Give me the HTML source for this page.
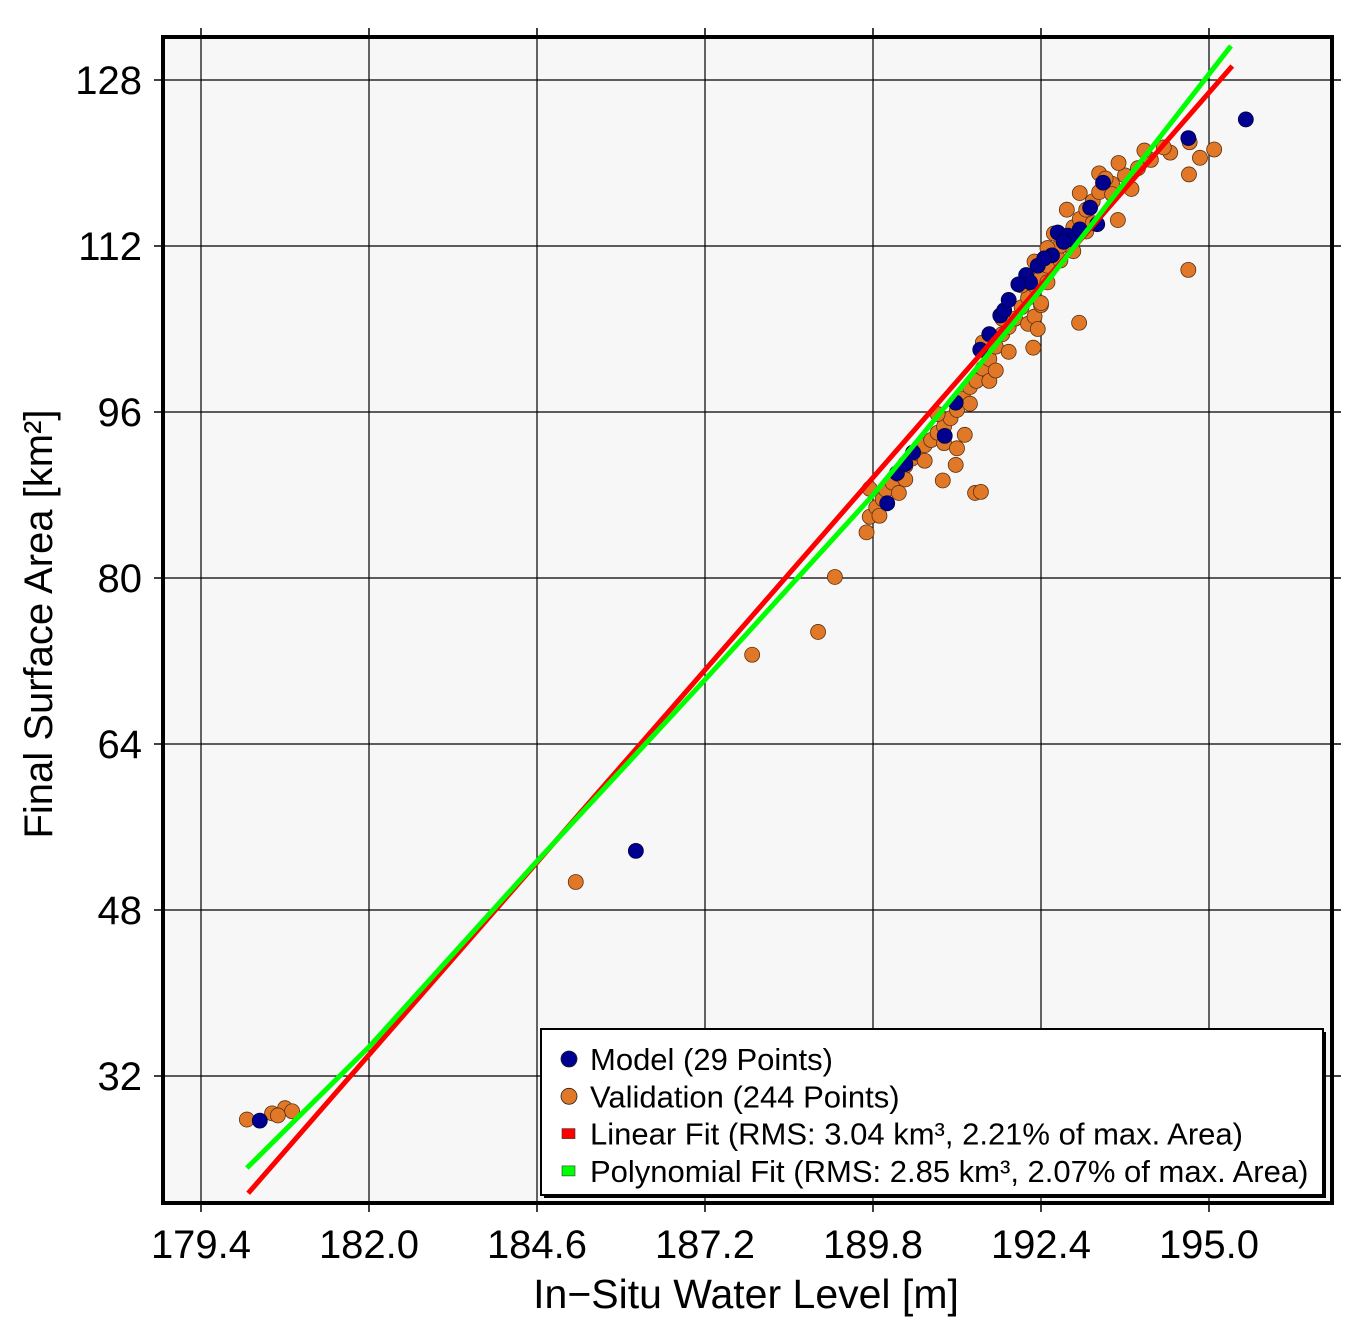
<!DOCTYPE html>
<html><head><meta charset="utf-8"><style>
html,body{margin:0;padding:0;background:#fff;}
svg{display:block;font-family:"Liberation Sans",sans-serif;}
</style></head><body>
<svg id="chart" width="1364" height="1342" viewBox="0 0 1364 1342"></svg>
<script>
const xTicks=[179.4,182.0,184.6,187.2,189.8,192.4,195.0];
const yTicks=[32,48,64,80,96,112,128];
const modelX=[180.31,186.13,190.02,190.17,190.42,190.91,191.08,191.46,191.77,191.83,192.17,192.23,192.35,192.57,192.66,192.82,193.16,193.27,193.36,194.68,195.57,192.45,192.05,191.6,190.3,192.9,193.0,192.75,191.9];
const modelY=[27.7,53.7,87.2,90.1,92.1,93.7,96.9,102.0,105.3,105.8,109.2,108.5,110.1,111.1,113.3,113.0,115.7,114.1,118.1,122.4,124.2,110.8,108.3,103.5,91.0,112.6,113.6,112.4,106.8];
const valX=[189.7,189.75,189.85,189.95,190.0,190.1,190.2,190.3,190.4,190.5,190.6,190.7,190.8,190.9,191.0,191.1,191.2,191.3,191.4,191.5,191.6,191.7,191.8,191.9,192.0,192.1,192.2,192.3,192.4,192.5,192.6,192.7,192.8,192.9,193.0,193.1,193.2,193.3,193.5,193.7,193.9,194.1,194.4,194.7,
190.3,190.6,190.9,191.1,191.3,191.6,191.9,192.2,192.3,192.4,192.5,192.7,192.9,193.1,193.2,193.5,192.6,192.8,193.0,193.3,192.1,191.8,191.5,190.2,189.9,189.75,190.8,191.7,192.3,192.5,193.4,193.6,194.0,194.3,193.8,
180.11,180.50,180.70,180.81,180.59,185.20,187.93,188.95,189.21,190.88,191.08,191.22,191.38,191.47,192.28,192.99,194.68,194.69,194.86,195.08,193.59,192.35,192.4];
const valY=[84.4,85.9,86.8,87.6,88.5,89.2,90.0,90.8,91.5,92.0,92.8,93.3,94.0,94.6,95.4,96.2,97.3,98.4,99.0,100.2,101.1,102.3,103.5,104.2,105.0,106.1,107.0,108.2,109.0,110.1,111.2,112.0,113.0,113.8,114.6,115.5,116.3,117.2,118.0,118.8,119.5,120.3,121.0,122.0,
89.5,91.3,93.0,92.5,96.8,99.0,101.8,104.5,105.2,106.3,108.5,110.6,111.5,113.4,114.2,117.0,113.2,115.5,117.1,119.0,108.2,105.0,102.7,88.2,86.0,88.6,95.8,100.0,110.5,111.8,118.5,120.0,121.2,121.5,117.5,
27.8,28.4,28.9,28.6,28.2,50.7,72.6,74.8,80.1,89.4,90.9,93.8,88.2,88.3,102.2,104.6,109.7,118.9,120.5,121.3,114.5,104.0,106.5];
const linX=[180.13,195.36];
const linY=[20.7,129.35];
const polyX=[180.11,182.0,184.6,187.2,189.8,192.4,195.34];
const polyY=[23.13,34.8,52.7,70.2,88.0,107.8,131.28];

const L=163,R=1332,T=37,B=1203;
const X=v=>201+(v-179.4)*(168/2.6);
const Y=v=>80+(128-v)*(166/16);
const NS='http://www.w3.org/2000/svg';
const svg=document.getElementById('chart');
function mk(t,a,p){const e=document.createElementNS(NS,t);for(const k in a)e.setAttribute(k,a[k]);(p||svg).appendChild(e);return e;}

let e=mk('rect',{x:L,y:T,width:R-L,height:B-T,fill:'#f7f7f7'});


xTicks.forEach(v=>{
  let g=mk('line',{x1:X(v),x2:X(v),y1:T,y2:B,stroke:'#000','stroke-width':1.2});
  
  
  mk('line',{x1:X(v),x2:X(v),y1:B,y2:B+9,stroke:'#000','stroke-width':1.5});
  mk('line',{x1:X(v),x2:X(v),y1:T-9,y2:T,stroke:'#000','stroke-width':1.5});
  let t=mk('text',{x:X(v),y:1258,'font-size':40,'text-anchor':'middle'});t.textContent=v.toFixed(1);
  
  
});
yTicks.forEach(v=>{
  let g=mk('line',{x1:L,x2:R,y1:Y(v),y2:Y(v),stroke:'#000','stroke-width':1.2});
  
  
  mk('line',{x1:L-9,x2:L,y1:Y(v),y2:Y(v),stroke:'#000','stroke-width':1.5});
  mk('line',{x1:R,x2:R+9,y1:Y(v),y2:Y(v),stroke:'#000','stroke-width':1.5});
  let t=mk('text',{x:142,y:Y(v)+14,'font-size':40,'text-anchor':'end'});t.textContent=v;
  
  
});
valX.forEach((v,i)=>{
  let c=mk('circle',{cx:X(v),cy:Y(valY[i]),r:7.5,fill:'#e07828',stroke:'#5a3010','stroke-width':0.8});
  
  
});
modelX.forEach((v,i)=>{
  let c=mk('circle',{cx:X(v),cy:Y(modelY[i]),r:7.5,fill:'#000090',stroke:'#000040','stroke-width':0.8});
  
  
});
let lp=mk('polyline',{points:linX.map((v,i)=>X(v)+','+Y(linY[i])).join(' '),fill:'none',stroke:'#ff0000','stroke-width':5});


let pp=mk('polyline',{points:polyX.map((v,i)=>X(v)+','+Y(polyY[i])).join(' '),fill:'none',stroke:'#00ff00','stroke-width':5,'stroke-linejoin':'round'});



let fr=mk('rect',{x:L,y:T,width:R-L,height:B-T,fill:'none',stroke:'#000','stroke-width':4});



let lg=mk('g',{});


mk('rect',{x:544,y:1032,width:782,height:166,fill:'#000'},lg);
mk('rect',{x:541,y:1029,width:782,height:166,fill:'#fff',stroke:'#000','stroke-width':2},lg);
const items=[['circle','#000090','Model (29 Points)'],['circle','#e07828','Validation (244 Points)'],['sq','#ff0000','Linear Fit (RMS: 3.04 km³, 2.21% of max. Area)'],['sq','#00ff00','Polynomial Fit (RMS: 2.85 km³, 2.07% of max. Area)']];
items.forEach((it,i)=>{
  const y=1059+i*37.3;
  if(it[0]=='circle') mk('circle',{cx:569,cy:y,r:8,fill:it[1],stroke:'#222','stroke-width':0.8},lg);
  else mk('rect',{x:562,y:y-5,width:13,height:10,fill:it[1],stroke:'#333','stroke-width':0.6},lg);
  let t=mk('text',{x:590,y:y+11,'font-size':31},lg);t.textContent=it[2];
  
  
});

let xt=mk('text',{x:746,y:1308,'font-size':41,'text-anchor':'middle'});xt.textContent='In\u2212Situ Water Level [m]';


let yt=mk('text',{x:0,y:0,'font-size':40,'text-anchor':'middle',transform:'translate(52,624) rotate(-90)'});yt.textContent='Final Surface Area [km²]';


</script>
</body></html>
